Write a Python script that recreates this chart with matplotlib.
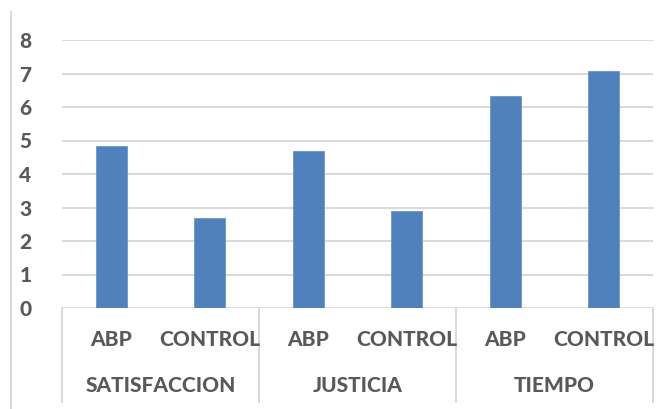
import matplotlib
matplotlib.use("Agg")
import matplotlib.pyplot as plt
from matplotlib.lines import Line2D
from matplotlib import font_manager as fm

groups = ["SATISFACCION", "JUSTICIA", "TIEMPO"]
subcats = ["ABP", "CONTROL"]
values = [4.84, 2.69, 4.69, 2.90, 6.34, 7.08]
yticks = [0, 1, 2, 3, 4, 5, 6, 7, 8]

def pick_font():
    files = {f.fname.split("/")[-1]: f.fname for f in fm.fontManager.ttflist}
    for name in ("Lato-Heavy.ttf", "Lato-Black.ttf", "Lato-ExtraBold.ttf", "Lato-Bold.ttf",
                 "LiberationSans-Bold.ttf"):
        if name in files:
            return fm.FontProperties(fname=files[name], size=15)
    return fm.FontProperties(family="DejaVu Sans", weight="bold", size=14)

fp = pick_font()

W, H = 672, 409
fig = plt.figure(figsize=(W / 100, H / 100), dpi=100)
left, right, top, bottom = 62, 653, 40, 308
ax = fig.add_axes([left / W, (H - bottom) / H, (right - left) / W, (bottom - top) / H])

grid_c = "#d9d9d9"
text_c = "#595959"

n = len(values)
x = list(range(n))
ax.bar(x, values, width=0.31, color="#4f81bd", edgecolor="#6a95cc", linewidth=0.6, zorder=3)
ax.set_xlim(-0.5, n - 0.5)
ax.set_ylim(0, 8)
ax.set_yticks(yticks)
ax.set_yticklabels([str(t) for t in yticks], fontproperties=fp, color=text_c)
ax.tick_params(axis="y", length=0, pad=22)
ax.set_xticks([])
for s in ax.spines.values():
    s.set_visible(False)
ax.yaxis.grid(True, color=grid_c, linewidth=1.4, zorder=0)
ax.set_axisbelow(True)

unit = (bottom - top) / 8.0
y_lvl1 = -(340 - bottom) / unit
y_lvl2 = -(386 - bottom) / unit
y_end = -(402 - bottom) / unit
ns = len(subcats)
for i in range(len(groups) + 1):
    xs = -0.5 + i * ns
    ax.plot([xs, xs], [0, y_end], color=grid_c, linewidth=1.4, clip_on=False, zorder=1)
for i, v in enumerate(values):
    ax.text(i, y_lvl1, subcats[i % ns], ha="center", va="center", fontproperties=fp,
            color=text_c, clip_on=False)
for g, name in enumerate(groups):
    ax.text(g * ns + (ns - 1) / 2, y_lvl2, name, ha="center", va="center",
            fontproperties=fp, color=text_c, clip_on=False)

fig.add_artist(Line2D([11 / W, 11 / W], [0, (H - 12) / H], color=grid_c, linewidth=1.4))

fig.savefig("out.png", dpi=100)
